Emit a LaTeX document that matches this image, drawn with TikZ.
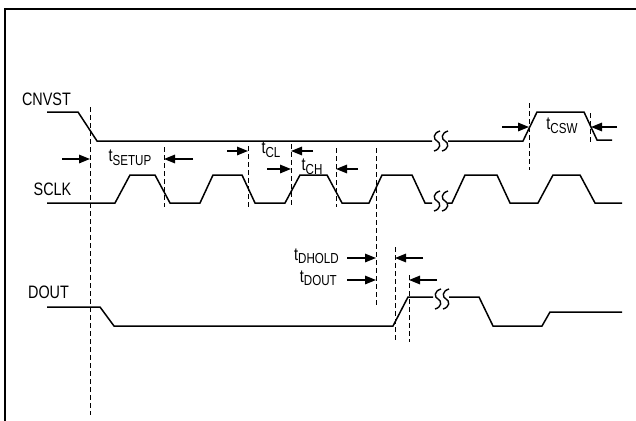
\documentclass[tikz,border=0pt]{standalone}
\usepackage{fontspec}
\setmainfont{Liberation Sans}[FakeStretch=0.8]
\usetikzlibrary{arrows.meta}
\newcommand\tsub[2]{#1\raisebox{-3.5pt}{\fontsize{14.5}{14.5}\selectfont #2}}
\tikzset{
  sig/.style={line width=1.5pt, line join=miter},
  guide/.style={line width=1pt, dash pattern=on 5pt off 3pt},
  tarrow/.style={line width=1.5pt, -{Triangle[length=11pt,width=8.5pt]}},
  lbl/.style={inner sep=0pt, font=\fontsize{18}{18}\selectfont},
  brk/.pic={
    \foreach \d in {-4,4}{
      \draw[line width=1.4pt] (\d+4,-10) .. controls (\d-3,-8) and (\d-3,-2) .. (\d+1,0) .. controls (\d+5,2) and (\d+5,8) .. (\d-2,10);
    }
  }
}
\begin{document}
\begin{tikzpicture}[x=1pt,y=-1pt]
\useasboundingbox (0,0) rectangle (636,420);
% frame
\draw[line width=2.2pt] (5,425) -- (5,9) -- (640,9);

% labels
\node[lbl] (cnvst) at (46.5,99.5) {CNVST};
\node[lbl] (sclk) at (52.5,189.5) {SCLK};
\node[lbl] (dout) at (48.5,292) {DOUT};

% CNVST waveform
\draw[sig] (47,112) -- (78,112) -- (97,141) -- (432,141);
\draw[sig] (448,141) -- (523,141) -- (537,112) -- (584,112) -- (597,140) -- (612,140);
\pic at (440,141) {brk};

% SCLK waveform
\draw[sig] (47,203) -- (115,203) -- (130,175) -- (155,175) -- (170,203) -- (200,203)
  -- (213,175) -- (242,175) -- (255,203) -- (285,203) -- (300,175) -- (327,175)
  -- (342,203) -- (369,203) -- (382,175) -- (412,175) -- (425,203) -- (432,203);
\draw[sig] (448,203) -- (452,203) -- (465,175) -- (497,175) -- (510,203) -- (538,203)
  -- (553,175) -- (580,175) -- (595,203) -- (622,203);
\pic at (440,201) {brk};

% DOUT waveform
\draw[sig] (47,307) -- (100,307) -- (114,326) -- (393,326) -- (408,297) -- (433,297);
\draw[sig] (449,297) -- (479,297) -- (493,326) -- (542,326) -- (550,312) -- (622,312);
\pic at (441,299) {brk};

% guide lines
\draw[guide] (90,107) -- (90,415);
\draw[guide] (164,147) -- (164,207);
\draw[guide] (248,146) -- (248,207);
\draw[guide] (291,144) -- (291,207);
\draw[guide] (336,148) -- (336,207);
\draw[guide] (376,148) -- (376,305);
\draw[guide] (529,103) -- (529,170);
\draw[guide] (590,113) -- (590,142);
\draw[guide] (395,247) -- (395,342);
\draw[guide] (409,275) -- (409,342);

% timing labels
\node[lbl] (tsetup) at (130,158) {\tsub{t}{SETUP}};
\node[lbl] (tcl) at (271,150) {\tsub{t}{CL}};
\node[lbl] (tch) at (312,167) {\tsub{t}{CH}};
\node[lbl] (tcsw) at (562,126) {\tsub{t}{CSW}};
\node[lbl, anchor=east] (tdhold) at (339,256) {\tsub{t}{DHOLD}};
\node[lbl, anchor=east] (tdout) at (337,278) {\tsub{t}{DOUT}};

% arrows
\draw[tarrow] (62,159) -- (90,159);
\draw[tarrow] (193,159) -- (164,159);
\draw[tarrow] (227,151) -- (248,151);
\draw[tarrow] (313,151) -- (291,151);
\draw[tarrow] (267,169) -- (291,169);
\draw[tarrow] (358,169) -- (336,169);
\draw[tarrow] (502,127) -- (529,127);
\draw[tarrow] (617,127) -- (591,127);
\draw[tarrow] (347,258) -- (376,258);
\draw[tarrow] (423,258) -- (395,258);
\draw[tarrow] (347,280) -- (376,280);
\draw[tarrow] (437,280) -- (409,280);
\end{tikzpicture}
\end{document}
